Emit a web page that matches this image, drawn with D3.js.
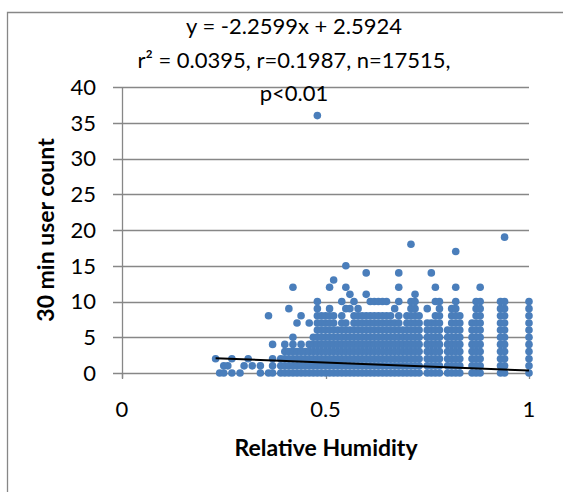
<!DOCTYPE html>
<html>
<head>
<meta charset="utf-8">
<script src="https://cdn.jsdelivr.net/npm/d3@7"></script>
<style>
  html, body { margin: 0; padding: 0; background: #fff; }
  svg { display: block; font-family: Lato, "Open Sans", sans-serif; }
</style>
</head>
<body>
<svg id="chart" width="563" height="492"></svg>
<script>
// Relative humidity values (fraction) observed in the sample
const humidity = [
  0.23, 0.24, 0.25, 0.26, 0.27, 0.29, 0.30, 0.31, 0.32, 0.34,
  0.36, 0.37, 0.39, 0.40, 0.41, 0.42, 0.43, 0.44, 0.45, 0.46,
  0.47, 0.48, 0.49, 0.50, 0.51, 0.52, 0.53, 0.54, 0.55, 0.56,
  0.57, 0.58, 0.59, 0.60, 0.61, 0.62, 0.63, 0.64, 0.65, 0.66,
  0.67, 0.68, 0.69, 0.70, 0.71, 0.72, 0.73, 0.75, 0.76, 0.77,
  0.78, 0.80, 0.81, 0.82, 0.83, 0.86, 0.87, 0.88, 0.93, 0.94,
  1.00
];

// Distinct 30-minute user counts seen at each humidity value
const userCounts = [
  [2], [0], [0, 1], [1], [0, 2], [0], [1], [2], [1], [0, 1],
  [0, 8], [0, 1, 2, 4], [0, 1, 2], [0, 1, 2, 3, 4], [0, 1, 2, 3, 9],
  [0, 1, 2, 3, 4, 5, 12], [0, 1, 2, 3, 7], [0, 1, 2, 3, 4, 8], [0, 1, 2, 3], [0, 1, 2, 3, 4, 7],
  [0, 1, 2, 3, 4, 5], [0, 1, 2, 3, 4, 5, 6, 7, 8, 9, 10, 36], [0, 1, 2, 3, 4, 5, 6, 7, 8], [0, 1, 2, 3, 4, 5, 6, 7, 8], [0, 1, 2, 3, 4, 5, 6, 7, 8, 9, 12],
  [0, 1, 2, 3, 4, 5, 6, 7, 8, 13], [0, 1, 2, 3, 4, 5, 6], [0, 1, 2, 3, 4, 5, 6, 7, 8, 10], [0, 1, 2, 3, 4, 5, 6, 7, 9, 12, 15], [0, 1, 2, 3, 4, 5, 6, 9, 11],
  [0, 1, 2, 3, 4, 5, 6, 7, 8, 10], [0, 1, 2, 3, 4, 5, 6, 7, 8, 9], [0, 1, 2, 3, 4, 5, 6, 7, 8], [0, 1, 2, 3, 4, 5, 6, 7, 8, 11, 14], [0, 1, 2, 3, 4, 5, 6, 7, 8, 10],
  [0, 1, 2, 3, 4, 5, 6, 7, 8, 10], [0, 1, 2, 3, 4, 5, 6, 7, 8, 10], [0, 1, 2, 3, 4, 5, 6, 7, 8, 10], [0, 1, 2, 3, 4, 5, 6, 7, 8, 10], [0, 1, 2, 3, 4, 5, 6, 7, 8],
  [0, 1, 2, 3, 4, 5, 6, 7, 9], [0, 1, 2, 3, 4, 5, 6, 7, 8, 10, 12, 14], [0, 1, 2, 3, 4, 5, 6], [0, 1, 2, 3, 4, 5, 6, 7, 8], [0, 1, 2, 3, 4, 5, 6, 7, 8, 9, 10, 18],
  [0, 1, 2, 3, 4, 5, 6, 7, 8, 9, 10, 11], [0, 1, 2, 3, 4, 5, 6, 7, 8], [0, 1, 2, 3, 4, 5, 6, 7, 9], [0, 1, 2, 3, 4, 5, 6, 7, 14], [0, 1, 2, 3, 4, 5, 6, 7, 8, 10, 12],
  [0, 1, 2, 3, 4, 5, 6, 7, 8, 9, 10], [0, 1, 2, 3, 4, 5, 6], [0, 1, 2, 3, 4, 5, 6, 7, 8, 9], [0, 1, 2, 3, 4, 5, 6, 7, 8, 9, 10, 12, 17], [0, 1, 2, 3, 4, 5, 6, 7, 8],
  [0, 1, 2, 3, 4, 5, 6, 7], [0, 1, 2, 3, 4, 5, 6, 7, 8, 9, 10], [0, 1, 2, 3, 4, 5, 6, 7, 8, 9, 10, 12], [0, 1, 2, 3, 4, 5, 6, 7, 8, 9, 10], [0, 1, 2, 3, 4, 5, 6, 7, 8, 9, 10, 19],
  [0, 1, 2, 3, 4, 5, 6, 7, 8, 9, 10]
];

// Axis ticks
const xTicks = [0, 0.5, 1];
const yTicks = [0, 5, 10, 15, 20, 25, 30, 35, 40];

// Linear fit reported with the chart
const slope = -2.2599;
const intercept = 2.5924;
const fitLines = [
  "y = -2.2599x + 2.5924",
  "r\u00B2 = 0.0395, r=0.1987, n=17515,",
  "p<0.01"
];

const xLabel = "Relative Humidity";
const yLabel = "30 min user count";

const svg = d3.select("#chart");
const grey = "#878787";
const dotColor = "#4A7EBB";

const x = d3.scaleLinear().domain([0, 1]).range([122, 529]);
const y = d3.scaleLinear().domain([0, 40]).range([373, 87]);

// outer chart frame
svg.append("path")
  .attr("d", "M7.5,492 V12.5 H563")
  .attr("fill", "none")
  .attr("stroke", grey)
  .attr("stroke-width", 1.3);

// horizontal gridlines with left tick marks
svg.append("g").selectAll("line")
  .data(yTicks)
  .join("line")
  .attr("x1", 113).attr("x2", 529)
  .attr("y1", d => Math.round(y(d)) + 0.5)
  .attr("y2", d => Math.round(y(d)) + 0.5)
  .attr("stroke", grey)
  .attr("stroke-width", 1.3);

// vertical axis line
svg.append("line")
  .attr("x1", x(0) + 0.5).attr("x2", x(0) + 0.5)
  .attr("y1", y(40)).attr("y2", y(0) + 5)
  .attr("stroke", grey)
  .attr("stroke-width", 1.3);

// x tick marks
svg.append("g").selectAll("line")
  .data(xTicks)
  .join("line")
  .attr("x1", d => Math.round(x(d)) + 0.5)
  .attr("x2", d => Math.round(x(d)) + 0.5)
  .attr("y1", y(0))
  .attr("y2", y(0) + 6)
  .attr("stroke", grey)
  .attr("stroke-width", 1.3);

// y tick labels
svg.append("g").selectAll("text")
  .data(yTicks)
  .join("text")
  .attr("x", 96)
  .attr("y", d => y(d))
  .attr("dy", "0.36em")
  .attr("text-anchor", "end")
  .attr("font-size", 22)
  .attr("fill", "#000")
  .text(d => d);

// x tick labels
svg.append("g").selectAll("text")
  .data(xTicks)
  .join("text")
  .attr("x", d => x(d))
  .attr("y", 409)
  .attr("dy", "0.36em")
  .attr("text-anchor", "middle")
  .attr("font-size", 22)
  .attr("fill", "#000")
  .text(d => d);

// scatter points
const points = humidity.flatMap((h, i) => userCounts[i].map(c => ({ h, c })));
svg.append("g").selectAll("circle")
  .data(points)
  .join("circle")
  .attr("cx", d => x(d.h))
  .attr("cy", d => y(d.c))
  .attr("r", 3.8)
  .attr("fill", dotColor);

// fitted trend line across the observed humidity range
const hExtent = d3.extent(humidity);
svg.append("line")
  .attr("x1", x(hExtent[0]))
  .attr("y1", y(slope * hExtent[0] + intercept))
  .attr("x2", x(hExtent[1]))
  .attr("y2", y(slope * hExtent[1] + intercept))
  .attr("stroke", "#000")
  .attr("stroke-width", 2);

// fit statistics
svg.append("g").selectAll("text")
  .data(fitLines)
  .join("text")
  .attr("x", 294)
  .attr("y", (d, i) => 34 + i * 33.5)
  .attr("text-anchor", "middle")
  .attr("font-size", 22)
  .attr("fill", "#000")
  .text(d => d);

// axis titles
svg.append("text")
  .attr("x", 326)
  .attr("y", 448)
  .attr("dy", "0.36em")
  .attr("text-anchor", "middle")
  .attr("font-size", 23)
  .attr("font-weight", "bold")
  .attr("fill", "#000")
  .text(xLabel);

svg.append("text")
  .attr("transform", "translate(46,230) rotate(-90)")
  .attr("dy", "0.36em")
  .attr("text-anchor", "middle")
  .attr("font-size", 23)
  .attr("font-weight", "bold")
  .attr("fill", "#000")
  .text(yLabel);
</script>
</body>
</html>
